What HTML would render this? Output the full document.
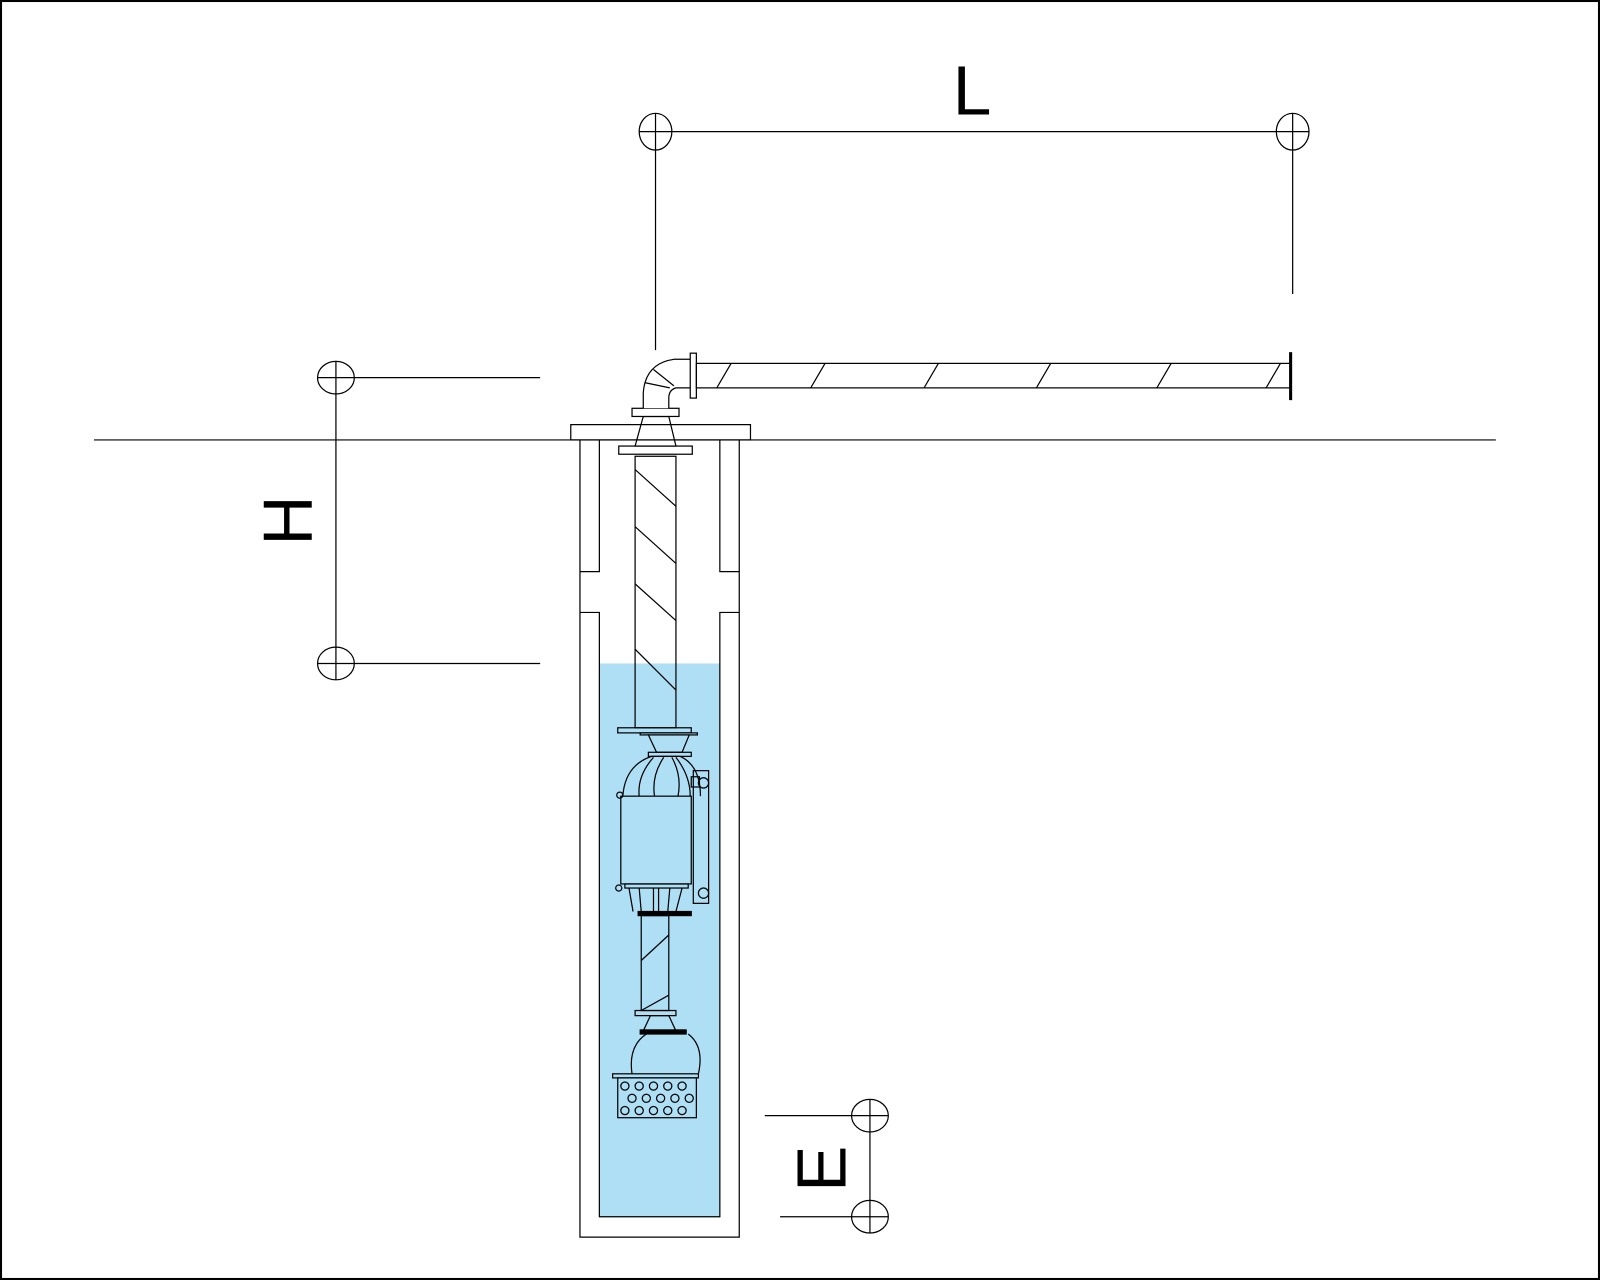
<!DOCTYPE html>
<html><head><meta charset="utf-8"><style>
html,body{margin:0;padding:0;background:#fff;width:1600px;height:1280px;overflow:hidden}
svg{display:block}
text{font-family:"Liberation Sans",sans-serif}
</style></head><body>
<svg width="1600" height="1280" viewBox="0 0 1567 1254" preserveAspectRatio="none" xmlns="http://www.w3.org/2000/svg" fill="none" stroke="#000" stroke-width="1.2">
<rect x="1" y="1" width="1565" height="1252" stroke-width="2"/>
<line x1="92" y1="431" x2="1465" y2="431"/>

<rect x="587" y="650" width="118" height="542" fill="#aedff5" stroke="none"/>

<g>
<rect x="559" y="416" width="176" height="15"/>
<polyline points="568,431 568,1212 724,1212 724,431"/>
<polyline points="587,431 587,560 568,560"/>
<polyline points="568,600 587,600 587,1192 705,1192 705,600 724,600"/>
<polyline points="705,431 705,560 724,560"/>
</g>

<g>
<ellipse cx="642" cy="129" rx="16" ry="18"/>
<ellipse cx="1266" cy="129" rx="16" ry="18"/>
<line x1="626" y1="129" x2="1282" y2="129"/>
<line x1="642" y1="111" x2="642" y2="343"/>
<line x1="1266" y1="111" x2="1266" y2="288"/>
<text x="952" y="112" font-size="68" fill="#000" stroke="none" text-anchor="middle">L</text>
</g>

<g>
<ellipse cx="329" cy="370" rx="18" ry="16"/>
<ellipse cx="329" cy="650" rx="18" ry="16"/>
<line x1="311" y1="370" x2="529" y2="370"/>
<line x1="311" y1="650" x2="529" y2="650"/>
<line x1="329" y1="354" x2="329" y2="666"/>
<text x="0" y="0" font-size="68" fill="#000" stroke="none" text-anchor="middle" transform="translate(305,510) rotate(-90)">H</text>
</g>

<g>
<ellipse cx="852" cy="1093" rx="18" ry="16"/>
<ellipse cx="852" cy="1192" rx="18" ry="16"/>
<line x1="749" y1="1093" x2="870" y2="1093"/>
<line x1="764" y1="1192" x2="870" y2="1192"/>
<line x1="852" y1="1077" x2="852" y2="1208"/>
<text x="0" y="0" font-size="68" fill="#000" stroke="none" text-anchor="middle" transform="translate(828,1145) rotate(-90)">E</text>
</g>

<g>
<rect x="606" y="437" width="72" height="8"/>
<polygon points="622,437 662,437 655,408 630,408"/>
<rect x="619" y="400" width="46" height="8" fill="#fff"/>
<path d="M630,400 L630,385 Q632,356 660,352 L678,352 L678,380 L662,380 Q655,382 655,390 L655,400" fill="#fff"/>
<line x1="632" y1="375" x2="656" y2="380"/>
<line x1="640" y1="362" x2="660" y2="378"/>
<rect x="676" y="346" width="6" height="44" fill="#fff"/>
<rect x="682" y="356" width="582" height="24"/>
<line x1="1264" y1="345" x2="1264" y2="392" stroke-width="3"/>
<g>
<line x1="702" y1="380" x2="716" y2="356"/><line x1="794" y1="380" x2="808" y2="356"/>
<line x1="905" y1="380" x2="919" y2="356"/><line x1="1015" y1="380" x2="1029" y2="356"/>
<line x1="1133" y1="380" x2="1147" y2="356"/><line x1="1240" y1="380" x2="1254" y2="356"/>
</g>
<rect x="622" y="447" width="40" height="266"/>
<g>
<line x1="622" y1="460" x2="662" y2="496"/><line x1="622" y1="516" x2="662" y2="552"/>
<line x1="622" y1="572" x2="662" y2="608"/><line x1="622" y1="636" x2="662" y2="676"/>
</g>
</g>

<g>
<rect x="605" y="713" width="72" height="5"/>
<rect x="627" y="718" width="56" height="2"/>
<polygon points="635,720 675,720 668,737 643,737"/>
<rect x="635" y="737" width="42" height="4"/>
<path d="M610,780 Q612,750 638,741 L666,741 Q686,750 686,780"/>
<path d="M626,780 Q624,760 640,742 M641,780 Q638,760 650,742 M664,780 Q668,760 658,742 M676,780 Q676,760 662,742"/>
<circle cx="607" cy="779" r="3"/>
<rect x="677" y="761" width="8" height="10"/>
<rect x="679" y="755" width="15" height="130"/>
<circle cx="689" cy="767" r="5"/><circle cx="689" cy="875" r="5"/>
<rect x="608" y="780" width="69" height="86"/>
<rect x="612" y="866" width="62" height="4"/>
<circle cx="606" cy="870" r="3"/>
<path d="M616,870 L620,893 M668,870 L662,893 M640,870 L640,893 M645,870 L645,893 M626,870 L628,893 M656,870 L654,893"/>
<rect x="625" y="893" width="52" height="4" fill="#000"/>
<rect x="628" y="897" width="27" height="93"/>
<line x1="628" y1="941" x2="655" y2="916"/><line x1="628" y1="990" x2="655" y2="975"/>
<rect x="622" y="990" width="40" height="5"/>
<polygon points="637,995 655,995 662,1010 630,1010"/>
<rect x="627" y="1009" width="45" height="4" fill="#000"/>
<path d="M619,1052 Q615,1025 633,1013 M674,1013 Q690,1025 684,1052"/>
</g>
<rect x="600" y="1052" width="84" height="4"/>
<rect x="605" y="1056" width="77" height="39"/>
<g>
<circle cx="612" cy="1064" r="4"/><circle cx="626" cy="1064" r="4"/><circle cx="640" cy="1064" r="4"/><circle cx="654" cy="1064" r="4"/><circle cx="668" cy="1064" r="4"/>
<circle cx="619" cy="1076" r="4"/><circle cx="633" cy="1076" r="4"/><circle cx="647" cy="1076" r="4"/><circle cx="661" cy="1076" r="4"/><circle cx="675" cy="1076" r="4"/>
<circle cx="612" cy="1088" r="4"/><circle cx="626" cy="1088" r="4"/><circle cx="640" cy="1088" r="4"/><circle cx="654" cy="1088" r="4"/><circle cx="668" cy="1088" r="4"/>
</g>
</svg>
</body></html>
